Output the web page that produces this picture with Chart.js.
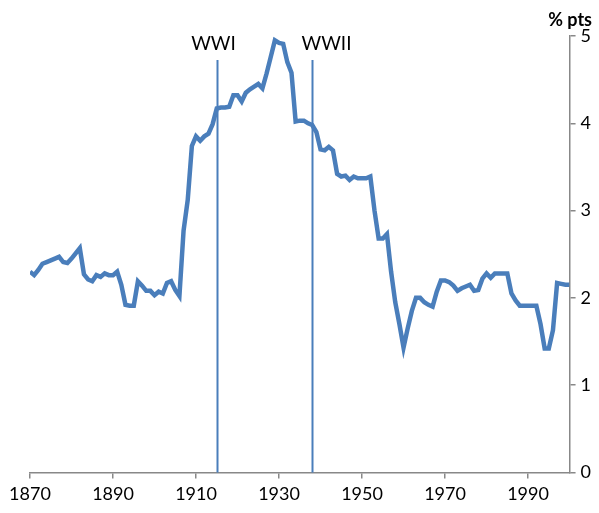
<!DOCTYPE html>
<html>
<head>
<meta charset="utf-8">
<script src="https://cdn.jsdelivr.net/npm/chart.js@4.4.1/dist/chart.umd.min.js"></script>
<style>
  html, body { margin: 0; padding: 0; background: #fff; }
  #wrap { width: 599px; height: 513px; position: relative; }
</style>
</head>
<body>
<div id="wrap"><canvas id="myChart"></canvas></div>
<script>
// annual series, first value is 1870
var firstYear = 1870;
var values = [
    2.30, 2.26, 2.32, 2.39, 2.41, 2.43, 2.45, 2.47, 2.41, 2.40,   // 1870s
    2.45, 2.51, 2.57, 2.27, 2.21, 2.19, 2.26, 2.24, 2.28, 2.26,   // 1880s
    2.26, 2.30, 2.15, 1.92, 1.91, 1.91, 2.19, 2.14, 2.08, 2.08,   // 1890s
    2.03, 2.07, 2.05, 2.17, 2.19, 2.09, 2.02, 2.77, 3.12, 3.74,   // 1900s
    3.85, 3.80, 3.85, 3.88, 3.99, 4.17, 4.18, 4.18, 4.19, 4.32,   // 1910s
    4.32, 4.25, 4.35, 4.39, 4.42, 4.45, 4.40, 4.57, 4.76, 4.95,   // 1920s
    4.92, 4.91, 4.70, 4.58, 4.02, 4.03, 4.03, 4.00, 3.98, 3.90,   // 1930s
    3.70, 3.69, 3.73, 3.69, 3.42, 3.39, 3.40, 3.35, 3.39, 3.37,   // 1940s
    3.37, 3.37, 3.39, 3.00, 2.68, 2.68, 2.73, 2.30, 1.95, 1.70,   // 1950s
    1.43, 1.65, 1.85, 2.00, 2.00, 1.95, 1.92, 1.90, 2.07, 2.20,   // 1960s
    2.20, 2.18, 2.14, 2.08, 2.11, 2.13, 2.15, 2.08, 2.09, 2.22,   // 1970s
    2.28, 2.23, 2.28, 2.28, 2.28, 2.28, 2.05, 1.97, 1.91, 1.91,   // 1980s
    1.91, 1.91, 1.91, 1.70, 1.42, 1.42, 1.63, 2.17, 2.16, 2.15,   // 1990s
    2.15                                                          // 2000
];
var xTicks = [1870, 1890, 1910, 1930, 1950, 1970, 1990];
var yTicks = [0, 1, 2, 3, 4, 5];
var warYears = [1915, 1938];
var warLabels = ['WWI', 'WWII'];

var blue = '#4a7ebb';
var axisGrey = '#888888';
var fontFamily = 'Lato, "Open Sans", "Liberation Sans", sans-serif';

var points = values.map(function(v, i) {
    return { x: firstYear + i, y: v };
});

// war markers and the unit label
var markersPlugin = {
    id: 'markers',
    afterDatasetsDraw: function(chart) {
        var ctx = chart.ctx;
        var xs = chart.scales.x;
        var ys = chart.scales.y;
        var area = chart.chartArea;
        ctx.save();
        ctx.strokeStyle = blue;
        ctx.lineWidth = 2;
        ctx.fillStyle = '#000';
        ctx.font = '19px ' + fontFamily;
        ctx.textBaseline = 'middle';
        ctx.textAlign = 'center';
        var labelShift = [-4, 14];
        warYears.forEach(function(yr, i) {
            var px = Math.round(xs.getPixelForValue(yr)) + 0.5;
            ctx.beginPath();
            ctx.moveTo(px, area.top + 24);
            ctx.lineTo(px, ys.getPixelForValue(0));
            ctx.stroke();
            ctx.fillText(warLabels[i], px + labelShift[i], area.top + 8);
        });
        ctx.font = 'bold 18px ' + fontFamily;
        ctx.textAlign = 'right';
        ctx.fillText('% pts', chart.width - 7, area.top - 16);
        ctx.restore();
    }
};

var ctx = document.getElementById('myChart').getContext('2d');
var myChart = new Chart(ctx, {
    type: 'line',
    data: {
        datasets: [{
            data: points,
            borderColor: blue,
            borderWidth: 4.5,
            pointRadius: 0,
            tension: 0,
            fill: false
        }]
    },
    options: {
        responsive: true,
        maintainAspectRatio: false,
        animation: false,
        layout: { padding: { top: 36, left: 30, right: 3, bottom: 3 } },
        plugins: {
            legend: { display: false },
            tooltip: { enabled: false }
        },
        scales: {
            x: {
                type: 'linear',
                min: 1870,
                max: 2000,
                afterBuildTicks: function(axis) {
                    axis.ticks = xTicks.map(function(v) { return { value: v }; });
                },
                grid: {
                    drawOnChartArea: false,
                    drawTicks: true,
                    tickLength: 6,
                    color: axisGrey,
                    lineWidth: 1.5
                },
                border: { color: axisGrey, width: 1.5 },
                ticks: {
                    color: '#000',
                    font: { family: fontFamily, size: 18 },
                    padding: 5,
                    maxRotation: 0,
                    autoSkip: false,
                    callback: function(v) { return String(v); }
                }
            },
            y: {
                position: 'right',
                min: 0,
                max: 5,
                afterBuildTicks: function(axis) {
                    axis.ticks = yTicks.map(function(v) { return { value: v }; });
                },
                grid: {
                    drawOnChartArea: false,
                    drawTicks: true,
                    tickLength: 6,
                    color: axisGrey,
                    lineWidth: 1.5
                },
                border: { color: axisGrey, width: 1.5 },
                ticks: {
                    color: '#000',
                    font: { family: fontFamily, size: 18 },
                    padding: 5
                }
            }
        }
    },
    plugins: [markersPlugin]
});
</script>
</body>
</html>
